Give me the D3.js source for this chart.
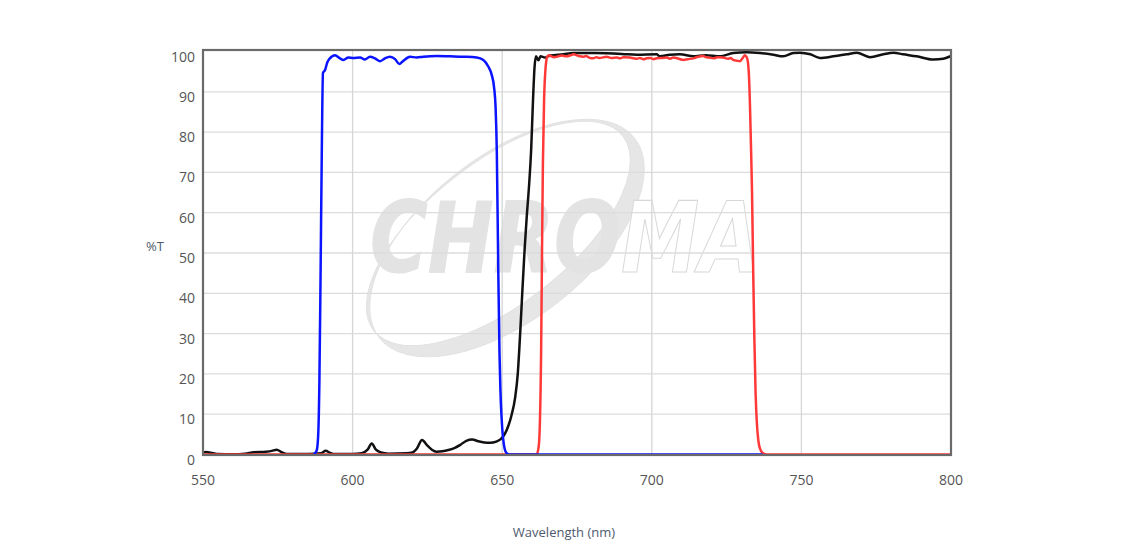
<!DOCTYPE html>
<html>
<head>
<meta charset="utf-8">
<script src="https://cdn.jsdelivr.net/npm/d3@7"></script>
<style>
  body { margin: 0; background: #fff; }
  text { font-family: "Open Sans", sans-serif; }
</style>
</head>
<body>
<div id="my_dataviz"></div>
<script>
// transmission curves, [wavelength nm, %T]
var blueCurve = [[587,0],[588,1],[588.5,4.8],[588.9,18],[589.3,45],[589.7,75],[590.1,94.7],[590.8,95.4],
  [591.5,97.2],[592.4,98.3],[594.1,99.1],[595.8,98.3],[596.9,97.9],[598.6,98.5],[600.2,98.4],[602.5,98.5],
  [604.1,98],[605.8,98.7],[607.5,98.3],[609.2,97.6],[610.8,98.3],[612.5,98.7],[614.2,98.1],[615.6,96.9],
  [616.8,97.6],[619.2,98.7],[621.4,98.5],[623.6,98.7],[628.1,98.9],[632.6,98.8],[636.9,98.7],[641.5,98.5],
  [643.7,97.9],[645.4,96.2],[646.5,94.2],[647.3,91],[647.8,86],[648.2,75],[648.7,45],[649.1,25],[649.4,16],
  [649.8,9],[650.3,4],[650.8,1.5],[651.5,0.3],[652.5,0],[737,0]];

var blackCurve = [[550,0.5],[551,0.6],[553,0.4],[555,0.1],[560,0.05],[564,0.2],[567,0.55],[571,0.7],[573,0.9],
  [574.6,1.2],[576.5,0.5],[578,0.15],[585,0.1],[589.5,0.3],[591,0.9],[592.5,0.4],[594,0.1],[600,0.1],[603,0.3],
  [605,1.2],[606.4,2.7],[607.8,1.2],[609.5,0.5],[612,0.2],[618,0.3],[620,0.5],[621.5,1.5],[623.2,3.6],[625,2.2],
  [626.5,1.2],[628,0.7],[630,0.8],[632,1.1],[634,1.6],[636,2.4],[638,3.4],[640,3.7],[642,3.3],[644,3.0],[646,2.9],
  [648,3.2],[649.5,3.8],[650.8,5],[652,7],[653.2,10],[654.3,14],[655.2,20],[656,30],[656.7,40],[657.5,51],
  [658.2,59],[659,67],[659.7,76],[660.3,88],[660.8,96],[661.3,98.8],[662.1,97.8],[662.8,98.8],[664.3,98.5],
  [666,99],[670.4,99.3],[673.8,99.6],[681,99.6],[690,99.4],[695,99.2],[701.6,99.3],[702.7,98.8],[706,99.2],
  [709.4,99.3],[713.9,98.8],[718,99.1],[722.8,98.8],[727.2,99.6],[731.7,99.8],[736.2,99.6],[740.6,99.2],
  [743.9,98.8],[747.3,99.6],[749.5,99.7],[753,99.3],[756.2,98.4],[760.7,98.8],[765.1,99.3],[768.5,99.7],
  [772.9,98.6],[777.4,99.3],[780.7,99.7],[784,99.3],[788.5,98.8],[794.1,98],[797.4,98.2],[799.7,98.8],[800,98.9]];

var redCurve = [[550,0],[661.5,0],[662.2,2],[662.6,8],[663,25],[663.3,50],[663.6,72],[664,88],[664.5,96],
  [665.1,98.8],[665.6,99.1],[666.5,98.8],[667.3,98.6],[668.2,98.7],[669,98.9],[670,99],[671.5,98.8],[673,99.1],
  [673.8,99.3],[675.5,98.9],[677.1,98.7],[678,98.9],[679,98.5],[680.4,98.3],[681.5,98.6],[682.5,98.4],[684.9,98.7],
  [686.5,98.4],[688.3,98.5],[689.5,98.3],[690.5,98.6],[692.7,98.5],[694,98.3],[695,98.2],[696,98.4],[697.2,98.1],
  [698.3,98.3],[699.5,98.4],[700.5,98.1],[701.6,98.3],[703.5,98.4],[705,98.5],[706,98.2],[707.2,98.5],[709,98.2],
  [710.5,97.9],[712,98.1],[713.9,98.3],[715.5,98.7],[717.2,98.9],[718,98.6],[719,98.5],[720.6,98.3],[722,98.6],
  [723.9,98.5],[725.5,98.2],[726.4,98.4],[727.2,97.9],[728.5,97.7],[729.5,97.6],[730.3,98.3],[731.1,99.1],
  [731.7,98.6],[732.1,97.5],[732.4,95],[732.8,87],[733.1,78],[733.5,65],[733.9,45],[734.3,28],[734.7,15],
  [735.1,8],[735.6,3.5],[736.3,1.2],[737.2,0.3],[738.5,0],[800,0]];

var xTicks = [550, 600, 650, 700, 750, 800];
var yTicks = [0, 10, 20, 30, 40, 50, 60, 70, 80, 90, 100];

var W = 1128, H = 558;
var margin = {top: 51, right: 177, bottom: 103, left: 203},
  width = W - margin.left - margin.right,
  height = H - margin.top - margin.bottom;

var svg = d3.select("#my_dataviz")
  .append("svg")
    .attr("width", W)
    .attr("height", H);

var g = svg.append("g")
    .attr("transform", "translate(" + margin.left + "," + margin.top + ")");

var x = d3.scaleLinear().domain([550, 800]).range([0, width]);
var y = d3.scaleLinear().domain([0, 100]).range([height - 0.5, 0.5]);

// watermark logo: "CHRO" filled, "MA" outlined (one text, split by gradients)
var defs = svg.append("defs");
var fillGrad = defs.append("linearGradient").attr("id", "wmFill")
    .attr("gradientUnits", "userSpaceOnUse")
    .attr("x1", 370).attr("x2", 760).attr("y1", 0).attr("y2", 0);
fillGrad.append("stop").attr("offset", 0.64).attr("stop-color", "#e3e3e3");
fillGrad.append("stop").attr("offset", 0.64).attr("stop-color", "#ffffff");
var strokeGrad = defs.append("linearGradient").attr("id", "wmStroke")
    .attr("gradientUnits", "userSpaceOnUse")
    .attr("x1", 370).attr("x2", 760).attr("y1", 0).attr("y2", 0);
strokeGrad.append("stop").attr("offset", 0.64).attr("stop-color", "#e3e3e3");
strokeGrad.append("stop").attr("offset", 0.64).attr("stop-color", "#d8d8d8");

var wm = g.append("g").attr("transform", "translate(" + (-margin.left) + "," + (-margin.top) + ")");
var ring = function(cx, cy, rx, ry) {
  return "M" + (cx - rx) + "," + cy + " a" + rx + "," + ry + " 0 1,0 " + (2 * rx) + ",0" +
         " a" + rx + "," + ry + " 0 1,0 " + (-2 * rx) + ",0 Z";
};
wm.append("path")
    .attr("transform", "translate(507,238) rotate(-38)")
    .attr("d", ring(0, 0, 162, 82) + " " + ring(-4, -9, 158, 71))
    .attr("fill", "#e6e6e6")
    .attr("fill-rule", "evenodd")
    .attr("stroke", "#e2e2e2")
    .attr("stroke-width", 1);

wm.append("text")
    .attr("x", 370).attr("y", 272)
    .attr("textLength", 390).attr("lengthAdjust", "spacingAndGlyphs")
    .style("font-family", "DejaVu Sans, sans-serif")
    .style("font-weight", "bold").style("font-style", "italic")
    .style("font-size", "98px")
    .attr("fill", "url(#wmFill)")
    .attr("stroke", "url(#wmStroke)")
    .attr("stroke-width", 1.2)
    .text("CHROMA");

// grid
g.append("g")
  .selectAll("line")
  .data(yTicks.slice(1, -1))
  .enter().append("line")
    .attr("x1", 0).attr("x2", width)
    .attr("y1", function(d) { return y(d); })
    .attr("y2", function(d) { return y(d); })
    .attr("stroke", "#dcdcdc").attr("stroke-width", 1.3);

g.append("g")
  .selectAll("line")
  .data(xTicks.slice(1, -1))
  .enter().append("line")
    .attr("y1", 0).attr("y2", height)
    .attr("x1", function(d) { return x(d); })
    .attr("x2", function(d) { return x(d); })
    .attr("stroke", "#d6d6d6").attr("stroke-width", 1.3);

// curves
g.append("clipPath").attr("id", "clip")
  .append("rect").attr("x", 0).attr("y", -1).attr("width", width).attr("height", height + 2);

var line = d3.line()
  .x(function(d) { return x(d[0]); })
  .y(function(d) { return y(d[1]); })
  .curve(d3.curveMonotoneX);

var series = [
  {data: blackCurve, color: "#111111"},
  {data: redCurve, color: "#ff3838"},
  {data: blueCurve, color: "#0a14ff"}
];

g.append("g")
    .attr("clip-path", "url(#clip)")
  .selectAll("path")
  .data(series)
  .enter().append("path")
    .attr("d", function(d) { return line(d.data); })
    .attr("fill", "none")
    .attr("stroke", function(d) { return d.color; })
    .attr("stroke-width", 2.5)
    .attr("stroke-linejoin", "round");

// frame
g.append("rect")
    .attr("x", 0).attr("y", -1)
    .attr("width", width).attr("height", height + 1)
    .attr("fill", "none")
    .attr("stroke", "#6a6a6a")
    .attr("stroke-width", 2.2);

// tick labels
g.append("g")
  .selectAll("text")
  .data(yTicks)
  .enter().append("text")
    .attr("x", -8)
    .attr("y", function(d) { return y(d) + 10; })
    .attr("text-anchor", "end")
    .attr("fill", "#555")
    .style("font-size", "14px")
    .text(function(d) { return d; });

g.append("g")
  .selectAll("text")
  .data(xTicks)
  .enter().append("text")
    .attr("x", function(d) { return x(d); })
    .attr("y", height + 30)
    .attr("text-anchor", "middle")
    .attr("fill", "#555")
    .style("font-size", "14px")
    .text(function(d) { return d; });

// axis titles
svg.append("text")
    .attr("x", 564).attr("y", 537)
    .attr("text-anchor", "middle")
    .attr("fill", "#4e5a6e")
    .style("font-size", "13px")
    .text("Wavelength (nm)");

svg.append("text")
    .attr("x", 155).attr("y", 251)
    .attr("text-anchor", "middle")
    .attr("fill", "#4e5a6e")
    .style("font-size", "13px")
    .text("%T");
</script>
</body>
</html>
